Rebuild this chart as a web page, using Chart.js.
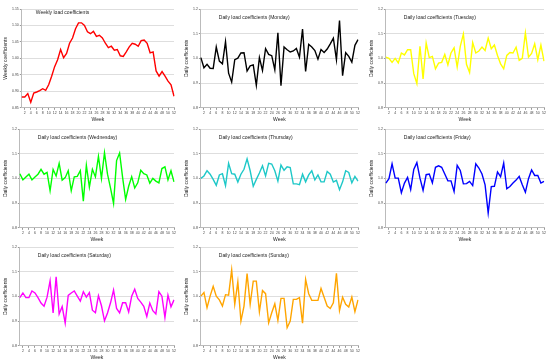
<!DOCTYPE html>
<html><head><meta charset="utf-8">
<script src="https://cdn.jsdelivr.net/npm/chart.js@4"></script>
<style>
body{margin:0;background:#fff;width:550px;height:363px;position:relative;overflow:hidden}
.p{position:absolute;height:125px}
</style></head><body>
<div class="p" style="left:0;top:0;width:177px"><canvas id="c0"></canvas></div>
<div class="p" style="left:181px;top:0;width:180px"><canvas id="c1"></canvas></div>
<div class="p" style="left:366px;top:0;width:181px"><canvas id="c2"></canvas></div>
<div class="p" style="left:0;top:120px;width:177px"><canvas id="c3"></canvas></div>
<div class="p" style="left:181px;top:120px;width:180px"><canvas id="c4"></canvas></div>
<div class="p" style="left:366px;top:120px;width:181px"><canvas id="c5"></canvas></div>
<div class="p" style="left:0;top:238px;width:177px"><canvas id="c6"></canvas></div>
<div class="p" style="left:181px;top:238px;width:180px"><canvas id="c7"></canvas></div>
<script>
const weeks = [1,2,3,4,5,6,7,8,9,10,11,12,13,14,15,16,17,18,19,20,21,22,23,24,25,26,27,28,29,30,31,32,33,34,35,36,37,38,39,40,41,42,43,44,45,46,47,48,49,50,51,52];

const weekly = [0.883,0.883,0.893,0.867,0.895,0.898,0.902,0.908,0.903,0.920,0.946,0.975,0.996,1.027,1.002,1.015,1.046,1.062,1.090,1.108,1.108,1.100,1.081,1.075,1.082,1.067,1.070,1.062,1.046,1.033,1.037,1.025,1.027,1.008,1.006,1.020,1.035,1.046,1.043,1.037,1.054,1.056,1.046,1.017,1.020,0.962,0.946,0.960,0.946,0.931,0.920,0.885];

const monday = [1.003,0.962,0.976,0.960,0.959,1.046,0.989,0.978,1.068,0.940,0.904,0.995,1.001,1.022,1.023,0.949,0.970,0.974,0.891,1.003,0.951,1.039,1.016,1.011,0.954,1.104,0.889,1.046,1.035,1.026,1.030,1.040,1.005,1.119,0.947,1.057,1.046,1.032,0.997,1.036,1.024,1.038,1.059,1.082,0.995,1.153,0.930,1.023,1.008,0.985,1.053,1.076];

const tuesday = [1.005,1.000,0.984,1.000,0.982,1.022,1.014,1.035,1.035,0.938,0.898,1.049,0.917,1.062,1.003,1.008,0.958,0.981,0.984,1.016,0.974,1.022,1.043,0.965,1.049,1.099,0.976,0.943,1.064,1.022,1.030,1.046,1.032,1.082,1.039,1.054,1.012,0.978,0.958,1.012,1.024,1.022,1.045,0.992,1.000,1.103,1.005,1.020,1.059,0.995,1.054,0.989];

const wednesday = [1.019,0.994,1.006,1.017,0.994,1.006,1.017,1.037,1.017,1.024,0.950,1.036,1.010,1.061,0.993,1.003,1.031,0.950,1.006,1.008,1.031,0.908,1.053,0.965,1.037,1.006,1.089,1.000,1.104,1.017,0.961,0.899,1.072,1.103,1.003,0.915,0.968,1.007,0.961,0.982,1.033,1.019,1.014,0.981,1.000,0.989,0.982,1.040,1.047,0.994,1.031,0.986];

const thursday = [1.000,1.010,1.031,1.017,0.996,0.972,1.014,1.019,0.971,1.061,1.019,1.017,0.985,1.017,1.037,1.079,1.031,0.968,0.996,1.022,1.051,1.010,1.061,1.058,1.031,0.989,1.054,1.033,1.047,1.044,0.978,0.978,0.975,1.017,0.986,1.014,1.031,0.994,1.014,0.986,0.986,1.028,1.017,0.985,0.992,0.954,0.986,1.031,1.024,0.982,1.008,0.989];

const friday = [0.981,0.999,1.059,1.001,1.001,0.942,0.981,1.004,0.955,1.036,1.064,1.001,0.952,1.015,1.018,0.982,1.045,1.051,1.045,1.018,0.990,0.990,0.947,1.053,1.032,0.978,0.979,0.988,0.971,1.059,1.042,1.018,0.974,0.860,0.967,0.968,1.026,1.007,1.062,0.958,0.967,0.981,0.993,1.008,0.974,0.944,0.999,1.034,1.012,1.012,0.981,0.988];

const saturday = [0.995,1.014,0.995,0.995,1.022,1.014,0.995,0.973,0.960,0.997,1.063,0.933,1.079,0.929,0.959,0.892,1.004,1.014,1.022,1.001,0.981,1.019,0.997,1.015,0.944,0.934,1.003,0.962,0.901,0.933,0.974,1.026,0.951,0.933,0.974,0.974,0.937,1.001,1.029,0.992,0.977,0.960,0.919,0.973,0.942,0.929,1.019,1.001,0.915,1.005,0.958,0.986];

const sunday = [1.001,1.016,0.954,1.001,1.041,1.001,0.986,0.961,1.007,1.005,1.107,0.968,1.059,0.900,0.961,1.092,0.968,1.062,1.062,0.938,1.024,1.011,0.893,0.934,0.970,0.903,0.992,0.992,0.873,0.900,0.988,0.988,0.995,0.892,1.069,1.011,0.984,0.984,0.984,1.032,0.997,0.961,0.951,0.974,1.093,0.943,0.997,0.968,0.957,0.997,0.938,0.986];

const titles = ['Weekly load coefficients','Daily load coefficients (Monday)','Daily load coefficients (Tuesday)','Daily load coefficients (Wednesday)','Daily load coefficients (Thursday)','Daily load coefficients (Friday)','Daily load coefficients (Saturday)','Daily load coefficients (Sunday)'];
const series = [weekly, monday, tuesday, wednesday, thursday, friday, saturday, sunday];
const colors = ['#ff0000','#000000','#ffff00','#00ff00','#1ec8c8','#0000ff','#ff00ff','#ffa500'];
const yTitles = ['Weekly coefficients','Daily coefficients','Daily coefficients','Daily coefficients','Daily coefficients','Daily coefficients','Daily coefficients','Daily coefficients'];
const weeklyTicks = [0.85,0.90,0.95,1.00,1.05,1.10,1.15];
const dailyTicks = [0.8,0.9,1.0,1.1,1.2];

const FONT = "'Liberation Sans', Arial, sans-serif";

const inTitle = {
  id: 'inTitle',
  afterDraw(chart, args, opts) {
    const ctx = chart.ctx, a = chart.chartArea;
    ctx.save();
    ctx.font = '5px ' + FONT;
    ctx.fillStyle = '#222';
    ctx.textBaseline = 'middle';
    ctx.fillText(opts.text, a.left + opts.dx, a.top + opts.dy);
    ctx.restore();
  }
};

series.forEach((data, i) => {
  const isWeekly = i === 0;
  const tickVals = isWeekly ? weeklyTicks : dailyTicks;
  new Chart(document.getElementById('c' + i), {
    type: 'line',
    data: {
      labels: weeks,
      datasets: [{
        data: data,
        borderColor: colors[i],
        borderWidth: 1.4,
        pointRadius: 0,
        tension: 0,
        fill: false
      }]
    },
    plugins: [inTitle],
    options: {
      responsive: true,
      maintainAspectRatio: false,
      animation: false,
      devicePixelRatio: 1,
      layout: { padding: { left: 3, right: 3, top: 9, bottom: 2 } },
      plugins: {
        legend: { display: false },
        tooltip: { enabled: false },
        inTitle: { text: titles[i], dx: isWeekly ? 14 : 18, dy: isWeekly ? 4 : 8.5 }
      },
      scales: {
        x: {
          offset: false,
          grid: {
            display: true,
            drawOnChartArea: false,
            tickLength: 2,
            tickColor: (c) => (c.index % 2 === 1 ? '#999' : 'rgba(0,0,0,0)')
          },
          border: { display: true, color: '#bbb' },
          ticks: {
            autoSkip: false,
            maxRotation: 0,
            padding: 1,
            font: { size: 3.5, family: FONT },
            color: '#444',
            callback: function(v, idx) { return idx % 2 === 1 ? String(weeks[idx]) : ''; }
          },
          title: { display: true, text: 'Week', font: { size: 5, family: FONT }, color: '#222', padding: { top: 1, bottom: 0 } }
        },
        y: {
          min: tickVals[0],
          max: tickVals[tickVals.length - 1],
          afterBuildTicks: (axis) => { axis.ticks = tickVals.map(v => ({ value: v })); },
          grid: { color: '#dedede', lineWidth: 1, tickLength: 2, tickColor: '#999' },
          border: { display: true, color: '#bbb' },
          ticks: {
            padding: 1,
            font: { size: 3.5, family: FONT },
            color: '#444',
            callback: (v) => isWeekly ? v.toFixed(2) : v.toFixed(1)
          },
          title: { display: true, text: yTitles[i], font: { size: 5, family: FONT }, color: '#222', padding: { top: 0, bottom: 2 } }
        }
      }
    }
  });
});
</script>
</body></html>
